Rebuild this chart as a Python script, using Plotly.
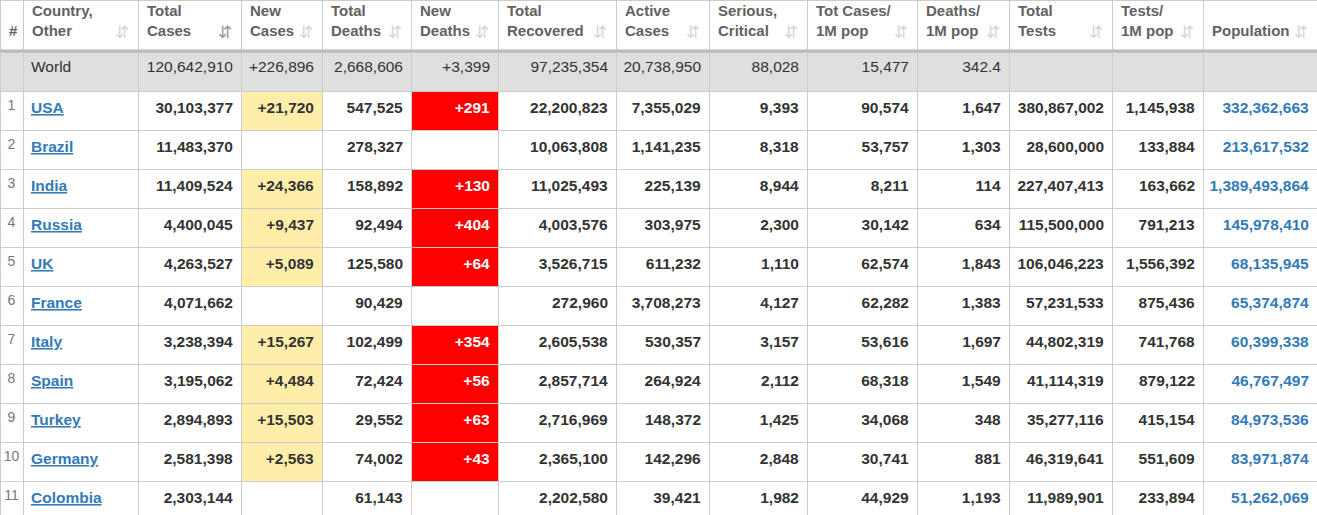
import plotly.graph_objects as go

# header labels
headers = ["\u00a0<br>#", "Country,<br>Other", "Total<br>Cases", "New<br>Cases", "Total<br>Deaths", "New<br>Deaths",
           "Total<br>Recovered", "Active<br>Cases", "Serious,<br>Critical", "Tot Cases/<br>1M pop",
           "Deaths/<br>1M pop", "Total<br>Tests", "Tests/<br>1M pop", "\u00a0<br>Population"]

# world summary row
world = ["World", 120642910, 226896, 2668606, 3399, 97235354, 20738950, 88028, 15477, 342.4, None, None, None]

ranks = [1, 2, 3, 4, 5, 6, 7, 8, 9, 10, 11]
countries = ["USA", "Brazil", "India", "Russia", "UK", "France", "Italy", "Spain", "Turkey", "Germany", "Colombia"]
total_cases = [30103377, 11483370, 11409524, 4400045, 4263527, 4071662, 3238394, 3195062, 2894893, 2581398, 2303144]
new_cases = [21720, None, 24366, 9437, 5089, None, 15267, 4484, 15503, 2563, None]
total_deaths = [547525, 278327, 158892, 92494, 125580, 90429, 102499, 72424, 29552, 74002, 61143]
new_deaths = [291, None, 130, 404, 64, None, 354, 56, 63, 43, None]
total_recovered = [22200823, 10063808, 11025493, 4003576, 3526715, 272960, 2605538, 2857714, 2716969, 2365100, 2202580]
active_cases = [7355029, 1141235, 225139, 303975, 611232, 3708273, 530357, 264924, 148372, 142296, 39421]
serious_critical = [9393, 8318, 8944, 2300, 1110, 4127, 3157, 2112, 1425, 2848, 1982]
cases_per_1m = [90574, 53757, 8211, 30142, 62574, 62282, 53616, 68318, 34068, 30741, 44929]
deaths_per_1m = [1647, 1303, 114, 634, 1843, 1383, 1697, 1549, 348, 881, 1193]
total_tests = [380867002, 28600000, 227407413, 115500000, 106046223, 57231533, 44802319, 41114319, 35277116, 46319641, 11989901]
tests_per_1m = [1145938, 133884, 163662, 791213, 1556392, 875436, 741768, 879122, 415154, 551609, 233894]
population = [332362663, 213617532, 1389493864, 145978410, 68135945, 65374874, 60399338, 46767497, 84973536, 83971874, 51262069]

col_widths = [23, 115, 103, 81, 89, 87, 118, 93, 98, 110, 92, 103, 91, 114]

TEXT = "#333333"
LINK = "#337ab7"
GRID = "#cccccc"
WORLD_BG = "#dfdfdf"
W, H = 1317, 525


def fmt(v, plus=False):
    if v is None:
        return ""
    return ("+" if plus else "") + f"{v:,}"


def bold(s):
    return "<b>" + s + "</b>" if s else ""


series = [total_cases, new_cases, total_deaths, new_deaths, total_recovered, active_cases,
          serious_critical, cases_per_1m, deaths_per_1m, total_tests, tests_per_1m, population]
plus_cols = {1, 3}

columns = [[""] + [str(r) for r in ranks],
           [world[0]] + ["<b><u>" + c + "</u></b>" for c in countries]]
for i, s in enumerate(series):
    plus = i in plus_cols
    columns.append([fmt(world[i + 1], plus)] + [bold(fmt(v, plus)) for v in s])

n = len(countries) + 1
fills = []
fcolors = []
for j in range(len(columns)):
    fill = [WORLD_BG] + ["white"] * (n - 1)
    fc = [TEXT] * n
    if j == 0:
        fc = ["#777777"] * n
    if j == 1:
        fc = [TEXT] + [LINK] * (n - 1)
    if j == 3:
        fill = [WORLD_BG] + ["#ffeeaa" if v is not None else "white" for v in new_cases]
    if j == 5:
        fill = [WORLD_BG] + ["#ff0000" if v is not None else "white" for v in new_deaths]
        fc = [TEXT] + ["white" if v is not None else TEXT for v in new_deaths]
    if j == 13:
        fc = [TEXT] + [LINK] * (n - 1)
    fills.append(fill)
    fcolors.append(fc)

aligns = ["center", "left"] + ["right"] * 12
sizes = [14] + [15.5] * 13

fig = go.Figure(go.Table(
    columnwidth=col_widths,
    header=dict(
        values=[" "] * len(headers),
        fill_color="white",
        line=dict(color=GRID, width=1),
        height=52,
    ),
    cells=dict(
        values=columns,
        align=aligns,
        fill_color=fills,
        line=dict(color=GRID, width=1),
        font=dict(family="Liberation Sans", size=sizes, color=fcolors),
        height=39,
    ),
    domain=dict(x=[0, 1], y=[0, 1]),
))

# header labels and sort icons, placed over the table header
annotations = []
left = 0
for j, w in enumerate(col_widths):
    annotations.append(dict(
        x=(left + 7) / W, y=1 - 0.5 / H, xref="paper", yref="paper",
        text="<b>" + headers[j] + "</b>", showarrow=False, xanchor="left", yanchor="top", align="left",
        font=dict(family="Liberation Sans", size=15, color="#626262"),
    ))
    left += w
    if j == 0:
        continue
    annotations.append(dict(
        x=(left - 16) / W, y=1 - 32 / H, xref="paper", yref="paper",
        text="⇵", showarrow=False, xanchor="center", yanchor="middle",
        font=dict(family="DejaVu Sans", size=17, color="#9a9a9a" if j == 2 else "#d6d6d6"),
    ))

fig.update_layout(
    width=W, height=H,
    margin=dict(l=0, r=0, t=0, b=0),
    paper_bgcolor="white",
    annotations=annotations,
    shapes=[dict(type="line", xref="paper", yref="paper", x0=0, x1=1,
                 y0=1 - 51 / H, y1=1 - 51 / H, line=dict(color="#bbbbbb", width=3))],
)

fig.write_html("out.html", config={"displayModeBar": False},
               post_script="document.body.style.margin='0';document.body.style.overflow='hidden';")
